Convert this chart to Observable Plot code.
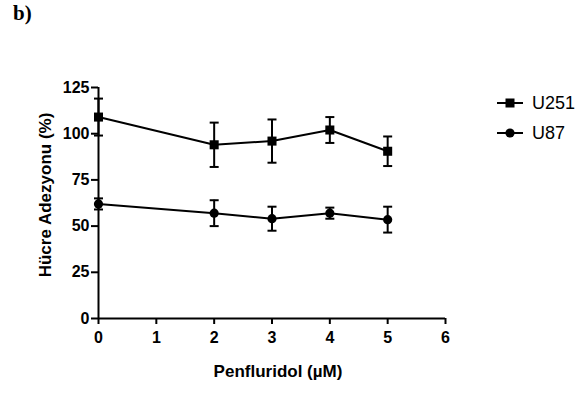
<!DOCTYPE html>
<html>
<head>
<meta charset="utf-8">
<script src="https://cdn.jsdelivr.net/npm/d3@7"></script>
<script src="https://cdn.jsdelivr.net/npm/@observablehq/plot@0.6"></script>
<style>
  body { margin: 0; background: #fff; }
  #wrap { position: relative; width: 579px; height: 401px; overflow: hidden; }
  #panel { position: absolute; left: 13px; top: 1px; font-family: "Liberation Serif", "Times New Roman", serif; font-weight: bold; font-size: 21px; }
  #legend { position: absolute; left: 497px; top: 88px; font-family: "Liberation Sans", Arial, sans-serif; font-size: 18px; }
  .item { display: flex; align-items: center; height: 30px; }
  .item svg { margin-right: 9px; }
</style>
</head>
<body>
<div id="wrap">
  <div id="panel">b)</div>
  <div id="legend"></div>
</div>
<script>
const doses = [0, 2, 3, 4, 5];
const seriesNames = ["U251", "U87"];
const u251Mean = [109, 94, 96, 102, 90.5];
const u251Err = [10, 12, 11.7, 7, 8];
const u87Mean = [62, 57, 54, 57, 53.5];
const u87Err = [3, 7, 6.5, 3, 7];
const yTicks = [0, 25, 50, 75, 100, 125];
const xTicks = [0, 1, 2, 3, 4, 5, 6];
const xTitle = "Penfluridol (µM)";
const yTitle = "Hücre Adezyonu (%)";
const symbols = ["square", "circle"];

const data = [];
doses.forEach((d, i) => {
  data.push({series: "U251", x: d, y: u251Mean[i], lo: u251Mean[i] - u251Err[i], hi: u251Mean[i] + u251Err[i]});
  data.push({series: "U87", x: d, y: u87Mean[i], lo: u87Mean[i] - u87Err[i], hi: u87Mean[i] + u87Err[i]});
});

const capSymbol = {
  draw(ctx, size) {
    const r = 4.5;
    ctx.moveTo(-r, 0);
    ctx.lineTo(r, 0);
  }
};

const font = "Liberation Sans, Arial, sans-serif";

const chart = Plot.plot({
  width: 579,
  height: 401,
  marginLeft: 98,
  marginRight: 134,
  marginTop: 87,
  marginBottom: 83,
  style: {fontFamily: font, background: "transparent", overflow: "visible"},
  x: {domain: [0, 6]},
  y: {domain: [0, 125]},
  marks: [
    Plot.axisX({ticks: xTicks, tickFormat: "d", tickSize: 6, tickPadding: 7, fontSize: 16, fontWeight: "bold", strokeWidth: 2, label: null}),
    Plot.axisY({ticks: yTicks, tickFormat: "d", tickSize: 7, tickPadding: 2, fontSize: 16, fontWeight: "bold", strokeWidth: 2, label: null}),
    Plot.text([xTitle], {text: d => d, frameAnchor: "bottom", dx: 6, dy: 58, fontSize: 17, fontWeight: "bold"}),
    Plot.text([yTitle], {text: d => d, frameAnchor: "left", textAnchor: "middle", rotate: -90, dx: -53, dy: -8, fontSize: 17, fontWeight: "bold"}),
    Plot.ruleX([0], {y1: 0, y2: 125, strokeWidth: 2}),
    Plot.ruleY([0], {x1: 0, x2: 6, strokeWidth: 2}),
    Plot.line(data, {x: "x", y: "y", z: "series", stroke: "black", strokeWidth: 2}),
    Plot.ruleX(data, {x: "x", y1: "lo", y2: "hi", stroke: "black", strokeWidth: 2}),
    Plot.dot(data, {x: "x", y: "lo", symbol: () => capSymbol, stroke: "black", strokeWidth: 2, fill: "none"}),
    Plot.dot(data, {x: "x", y: "hi", symbol: () => capSymbol, stroke: "black", strokeWidth: 2, fill: "none"}),
    Plot.dot(data.filter(d => d.series === "U251"), {x: "x", y: "y", symbol: "square", r: 5.1, fill: "black", stroke: "none"}),
    Plot.dot(data.filter(d => d.series === "U87"), {x: "x", y: "y", symbol: "circle", r: 4.6, fill: "black", stroke: "none"})
  ]
});
document.getElementById("wrap").prepend(chart);
chart.style.position = "absolute";
chart.style.left = "0";
chart.style.top = "0";

const legend = document.getElementById("legend");
seriesNames.forEach((name, i) => {
  const item = document.createElement("div");
  item.className = "item";
  const sym = symbols[i] === "square"
    ? '<rect x="8.5" y="3.5" width="9" height="9" fill="black"/>'
    : '<circle cx="13" cy="8" r="4.6" fill="black"/>';
  item.innerHTML = `<svg width="26" height="16"><line x1="0" x2="26" y1="8" y2="8" stroke="black" stroke-width="2"/>${sym}</svg><span>${name}</span>`;
  legend.appendChild(item);
});
</script>
</body>
</html>
